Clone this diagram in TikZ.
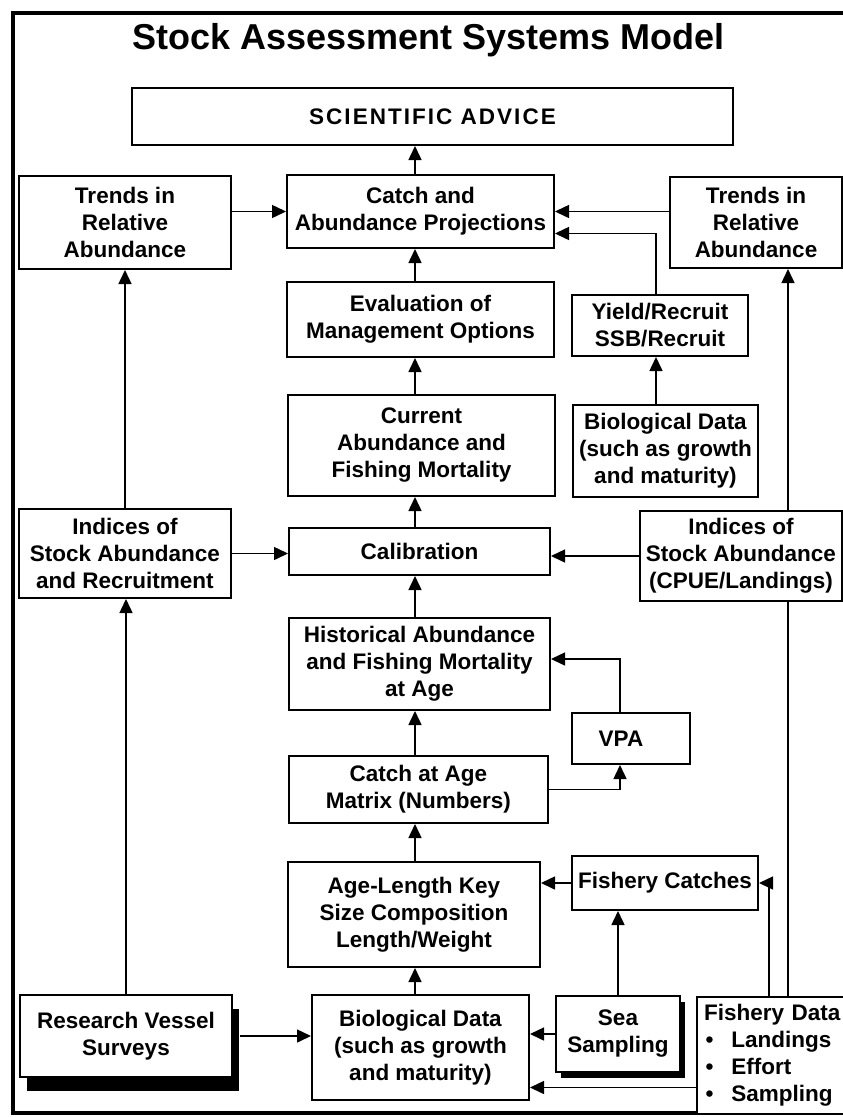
\documentclass[tikz,border=0pt]{standalone}
\usepackage{fontspec}
\setmainfont{Liberation Sans}
\usetikzlibrary{arrows.meta, shadows}

\newcommand{\boxfont}{\fontsize{22.5}{27}\selectfont\bfseries}

\begin{document}
\begin{tikzpicture}[x=1pt, y=-1pt,
    box/.style={draw, line width=2pt, fill=white, align=center, inner sep=1pt, font=\boxfont},
    arr/.style={line width=1.5pt, -{Triangle[length=14pt, width=13pt]}},
    link/.style={line width=1.5pt}]
    \useasboundingbox (0,0) rectangle (843,1117);
    \clip (0,0) rectangle (843,1117);
    \draw[line width=3.2pt] (13,13) rectangle (860,1113);
    \node[font=\fontsize{36}{40}\selectfont\bfseries, anchor=base] (title) at (428.5,49) {Stock Assessment Systems Model};

    \coordinate (spine) at (415,0);
    \coordinate (yx) at (656,0);
    \coordinate (vx) at (620,0);
    \coordinate (fx) at (769,0);
    \coordinate (rx) at (788,0);

    \node[box, minimum width=601pt, minimum height=57pt] (sci) at (432.5,116.5) {\addfontfeature{LetterSpace=9}SCIENTIFIC ADVICE};
    \node[box, minimum width=212pt, minimum height=93pt] (trendsL) at (125,222.5) {Trends in\\Relative\\Abundance};
    \node[box, minimum width=267pt, minimum height=73pt] (cap) at (420.5,211.5) {Catch and\\Abundance Projections};
    \node[box, minimum width=172pt, minimum height=91pt] (trendsR) at (756,222.5) {Trends in\\Relative\\Abundance};
    \node[box, minimum width=267pt, minimum height=75pt] (eval) at (420.5,319.5) {Evaluation of\\Management Options};
    \node[box, minimum width=176pt, minimum height=61pt] (yield) at (660,325.5) {Yield/Recruit\\SSB/Recruit};
    \node[box, minimum width=267pt, minimum height=101pt] (current) at (421.5,445.5) {Current\\Abundance and\\Fishing Mortality};
    \node[box, minimum width=185pt, minimum height=92pt] (bioU) at (665.5,451) {Biological Data\\(such as growth\\and maturity)};
    \node[box, minimum width=212pt, minimum height=89pt] (indL) at (125,553.5) {Indices of\\Stock Abundance\\and Recruitment};
    \node[box, minimum width=261pt, minimum height=47pt] (calib) at (419.5,551.5) {Calibration};
    \node[box, minimum width=202pt, minimum height=90pt] (indR) at (741,556) {Indices of\\Stock Abundance\\(CPUE/Landings)};
    \node[box, minimum width=261pt, minimum height=92pt] (hist) at (419.5,664) {Historical Abundance\\and Fishing Mortality\\at Age};
    \node[box, minimum width=118pt, minimum height=51pt] (vpa) at (631,738.5) {VPA\hspace*{20pt}};
    \node[box, minimum width=259pt, minimum height=67pt] (caa) at (418.5,789.5) {Catch at Age\\Matrix (Numbers)};
    \node[box, minimum width=252pt, minimum height=105pt] (alk) at (414,914.5) {Age-Length Key\\Size Composition\\Length/Weight};
    \node[box, minimum width=186pt, minimum height=54pt] (fcatch) at (665,883) {Fishery Catches};
    \node[box, minimum width=212pt, minimum height=82pt, drop shadow={shadow xshift=7pt, shadow yshift=-14pt, opacity=1, fill=black}] (rv) at (126,1036) {Research Vessel\\Surveys};
    \node[box, minimum width=217pt, minimum height=105pt] (bioL) at (420.5,1047.5) {Biological Data\\(such as growth\\and maturity)};
    \node[box, minimum width=124pt, minimum height=76pt, drop shadow={shadow xshift=5pt, shadow yshift=-6pt, opacity=1, fill=black}] (sea) at (618,1034) {Sea\\Sampling};
    \node[box, anchor=north west, align=left, text width=150pt, inner xsep=7pt, minimum height=117pt] (fdata) at (696,996) {Fishery Data\\\hspace*{1.5pt}\textbullet\hspace{18pt}Landings\\\hspace*{1.5pt}\textbullet\hspace{18pt}Effort\\\hspace*{1.5pt}\textbullet\hspace{18pt}Sampling};

    \draw[arr] (cap.north -| spine) -- (sci.south -| spine);
    \draw[arr] (trendsL.east |- cap) -- (cap.west);
    \draw[arr] (trendsR.west |- cap) -- (cap.east);
    \draw[arr] (yield.north -| yx) |- ([yshift=-22pt]cap.east);
    \draw[arr] (eval.north -| spine) -- (cap.south -| spine);
    \draw[arr] (current.north -| spine) -- (eval.south -| spine);
    \draw[arr] (bioU.north -| yx) -- (yield.south -| yx);
    \draw[arr] (calib.north -| spine) -- (current.south -| spine);
    \draw[arr] (indL.east) -- (indL.east -| calib.west);
    \draw[arr] (indR.west) -- (indR.west -| calib.east);
    \draw[arr] (indL.north) -- (trendsL.south);
    \draw[arr] (indR.north -| rx) -- (trendsR.south -| rx);
    \draw[arr] (hist.north -| spine) -- (calib.south -| spine);
    \draw[arr] (vpa.north -| vx) |- ([yshift=5pt]hist.east);
    \draw[arr] (caa.east) -| (vpa.south -| vx);
    \draw[arr] (caa.north -| spine) -- (hist.south -| spine);
    \draw[arr] (alk.north -| spine) -- (caa.south -| spine);
    \draw[arr] (fcatch.west) -- (fcatch.west -| alk.east);
    \draw[arr] (sea.north) -- (sea.north |- fcatch.south);
    \draw[arr] (fdata.north -| fx) |- (fcatch.east);
    \draw[link] (fdata.north -| rx) -- (indR.south -| rx);
    \draw[arr] (rv.north) -- (rv.north |- indL.south);
    \draw[arr] ([xshift=7pt]rv.east) -- (rv.east -| bioL.west);
    \draw[arr] (sea.west) -- (sea.west -| bioL.east);
    \coordinate (bioin) at ([yshift=-40pt]bioL.east);
    \draw[arr] (bioin -| fdata.west) -- (bioin);
    \draw[arr] (bioL.north -| spine) -- (alk.south -| spine);
\end{tikzpicture}
\end{document}
